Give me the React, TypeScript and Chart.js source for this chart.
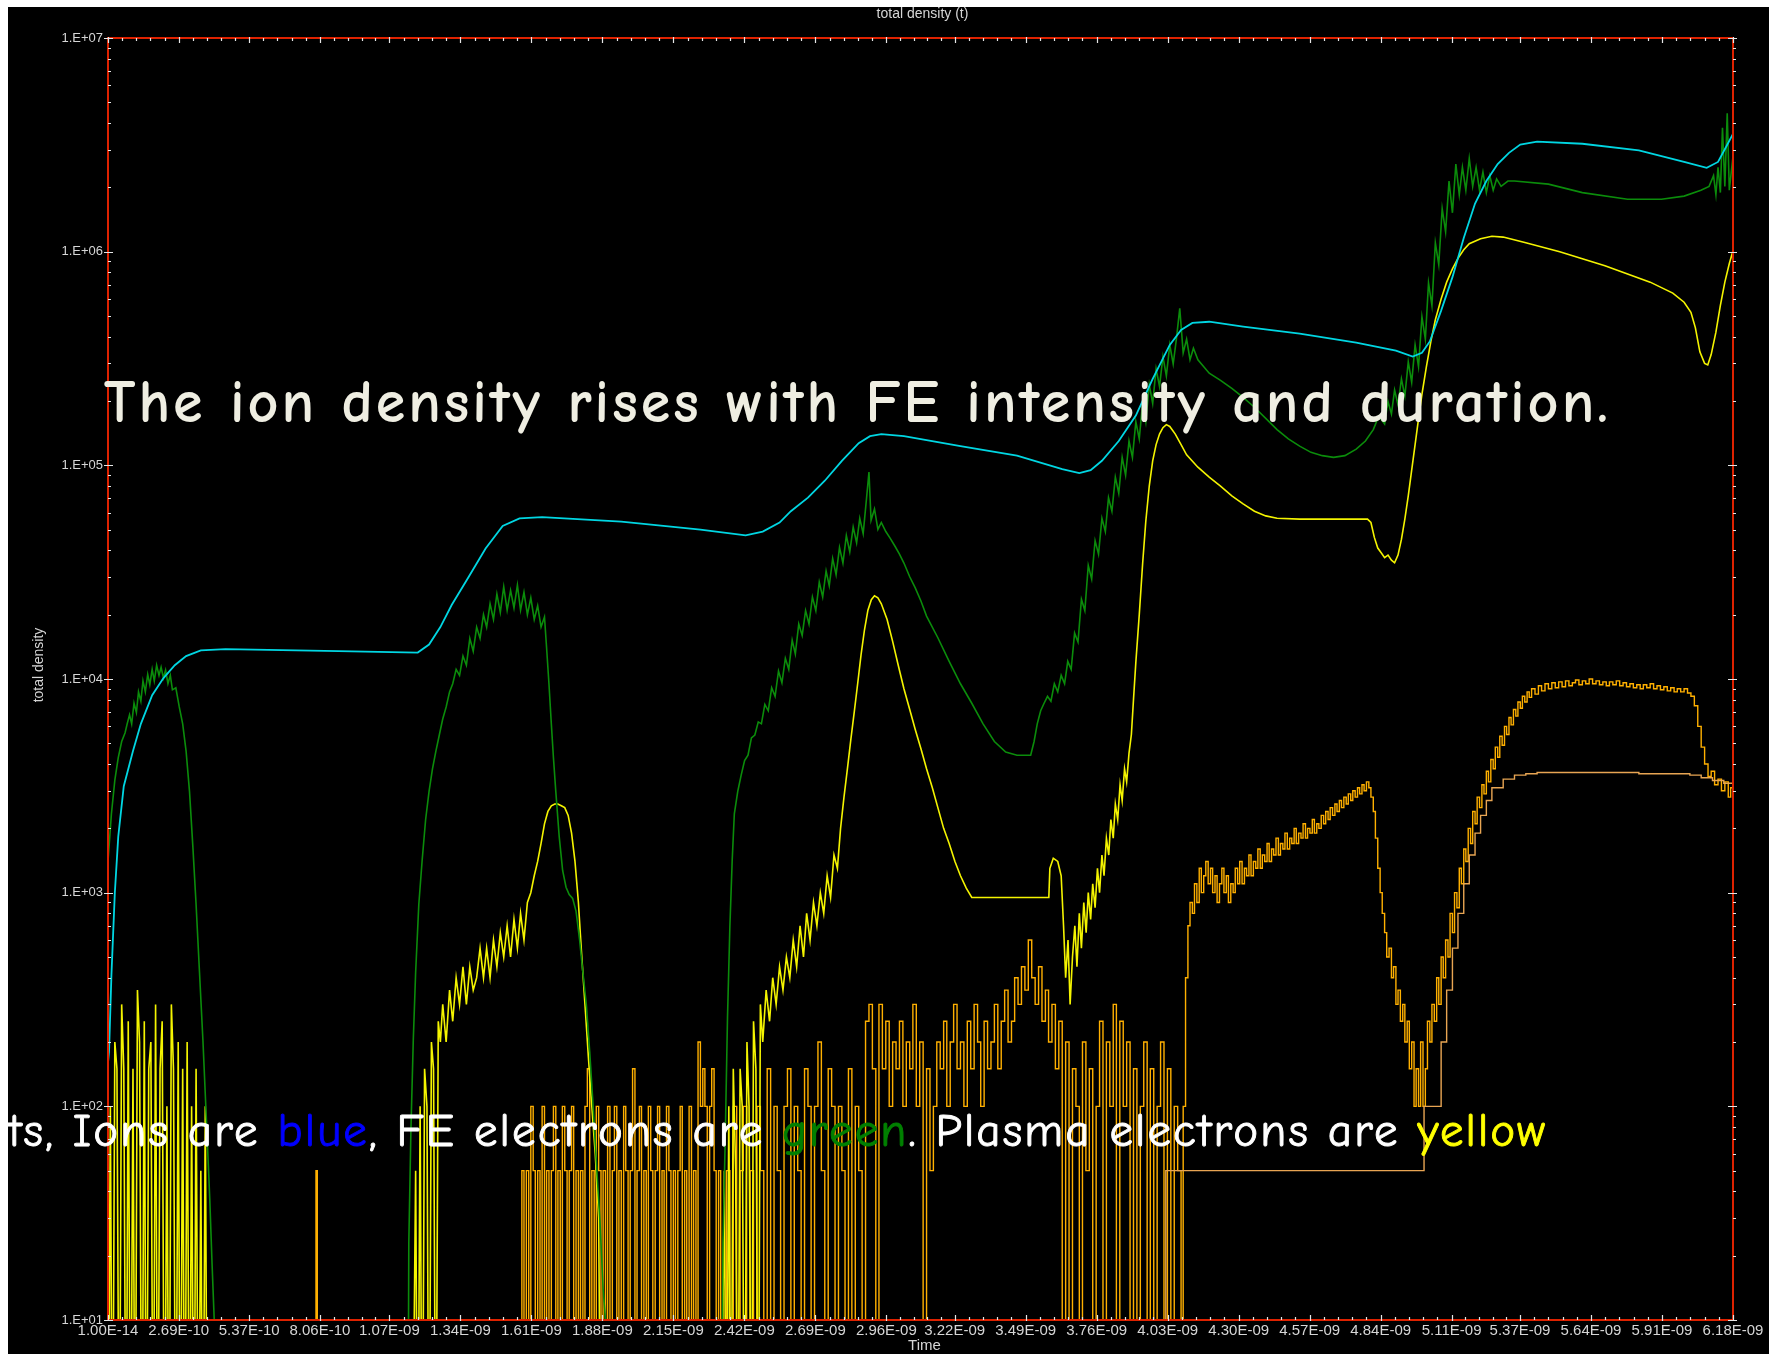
import React, { useEffect, useRef } from "react";
import { Chart, registerables } from "chart.js";

Chart.register(...registerables);

// ---------- text ----------
const chartTitle = "total density (t)";
const xAxisTitle = "Time";
const yAxisTitle = "total density";
const headline = "The ion density rises with FE intensity and duration.";

// ---------- tick labels ----------
const xTickLabels = [
  "1.00E-14", "2.69E-10", "5.37E-10", "8.06E-10", "1.07E-09", "1.34E-09",
  "1.61E-09", "1.88E-09", "2.15E-09", "2.42E-09", "2.69E-09", "2.96E-09",
  "3.22E-09", "3.49E-09", "3.76E-09", "4.03E-09", "4.30E-09", "4.57E-09",
  "4.84E-09", "5.11E-09", "5.37E-09", "5.64E-09", "5.91E-09", "6.18E-09",
];
const yTickLabels = ["1.E+01", "1.E+02", "1.E+03", "1.E+04", "1.E+05", "1.E+06", "1.E+07"];

// ---------- series: [time in ps, density] ----------
const ionDensity: [number, number][] = [
  [0, 160], [4, 180], [13, 410], [26, 1000], [39, 1830], [60, 3150], [95, 4600], [125, 6170],
  [168, 8400], [211, 10100], [254, 11600], [297, 12800], [353, 13600], [447, 13800], [877, 13500],
  [1178, 13300], [1221, 14500], [1264, 17500], [1307, 22200], [1372, 30100], [1436, 40800],
  [1501, 52000], [1565, 56500], [1651, 57200], [1952, 54500], [2253, 50000], [2425, 47000],
  [2490, 49000], [2554, 54000], [2597, 61000], [2662, 70600], [2726, 84700], [2791, 105000],
  [2855, 127000], [2898, 137000], [2941, 140000], [3027, 137000], [3242, 123000], [3457, 111000],
  [3629, 96000], [3694, 92000], [3737, 95000], [3780, 105000], [3844, 130000], [3909, 171000],
  [3973, 254000], [4038, 366000], [4081, 430000], [4124, 464000], [4188, 470000], [4317, 446000],
  [4532, 413000], [4747, 375000], [4898, 344000], [4962, 323000], [4997, 336000], [5027, 380000],
  [5070, 530000], [5113, 760000], [5156, 1160000], [5199, 1680000], [5242, 2140000], [5285, 2570000],
  [5328, 2900000], [5371, 3170000], [5435, 3270000], [5607, 3200000], [5822, 2980000], [5994, 2630000],
  [6080, 2470000], [6123, 2630000], [6153, 3080000], [6180, 3560000],
];

const feElectronDensity: [number, number][] = [
  [0, 1400], [13, 2340], [26, 3360], [39, 4290], [52, 5100], [65, 5600], [73, 6170], [82, 6800],
  [90, 6170], [99, 7700], [108, 6970], [116, 8700], [125, 7870], [133, 9800], [142, 8700], [151, 10500],
  [159, 9400], [168, 11100], [176, 9800], [185, 11600], [194, 10400], [202, 11350], [211, 10100],
  [219, 11000], [228, 9500], [237, 10400], [245, 8900], [258, 9100], [271, 7400], [284, 6170],
  [297, 4600], [310, 2980], [323, 1620], [335, 880], [348, 424], [361, 204], [374, 88], [387, 37],
  [396, 18], [404, 10], [409, 1],
  [1140, 1], [1144, 23], [1152, 77], [1161, 204], [1170, 424], [1182, 880], [1195, 1430], [1208, 2200],
  [1221, 2980], [1234, 3800], [1247, 4600], [1260, 5470], [1273, 6500], [1286, 7400], [1299, 8700],
  [1311, 9500], [1324, 11100], [1337, 10400], [1350, 12800], [1363, 11600], [1376, 15500], [1389, 13500],
  [1402, 17500], [1415, 15500], [1428, 20000], [1440, 17500], [1453, 22500], [1466, 19000], [1479, 25000],
  [1492, 20500], [1505, 27000], [1518, 21000], [1531, 26000], [1544, 21500], [1557, 27500], [1569, 21000],
  [1582, 25500], [1595, 20000], [1608, 24000], [1621, 19000], [1634, 22000], [1647, 17500], [1660, 19500],
  [1668, 14000], [1677, 9500], [1686, 6170], [1694, 4290], [1703, 2980], [1716, 1830], [1729, 1270],
  [1742, 1060], [1754, 980], [1767, 940], [1780, 820], [1793, 610], [1806, 424], [1819, 300], [1832, 180],
  [1845, 100], [1858, 53], [1871, 29], [1883, 14], [1892, 10], [1896, 1],
  [2330, 1], [2339, 23], [2348, 77], [2356, 260], [2365, 690], [2374, 1430], [2382, 2340], [2395, 2980],
  [2408, 3550], [2421, 4150], [2434, 4400], [2447, 5300], [2460, 5470], [2473, 6300], [2485, 6170],
  [2498, 7600], [2511, 7100], [2524, 9100], [2537, 8300], [2550, 10900], [2563, 9600], [2576, 12500],
  [2589, 11100], [2602, 15200], [2614, 13100], [2627, 18100], [2640, 16000], [2653, 20900], [2666, 18100],
  [2679, 24200], [2692, 20900], [2705, 28400], [2718, 24200], [2731, 32000], [2743, 27300], [2756, 36600],
  [2769, 30800], [2782, 41300], [2795, 34900], [2808, 46900], [2821, 39400], [2834, 51400], [2847, 43400],
  [2859, 56500], [2872, 47900], [2885, 70600], [2894, 93000], [2902, 55300], [2915, 62500], [2928, 50100],
  [2941, 54000], [2958, 49000], [2975, 45500], [2993, 41800], [3010, 38400], [3027, 34900], [3049, 30100],
  [3070, 26700], [3092, 23100], [3113, 19700], [3156, 15600], [3199, 12100], [3242, 9500], [3285, 7700],
  [3328, 6170], [3371, 5100], [3414, 4550], [3457, 4400], [3509, 4400],
  [3522, 5100], [3534, 6170], [3547, 7100], [3560, 7700], [3573, 8300], [3586, 7870], [3599, 9500],
  [3612, 8700], [3625, 10400], [3638, 9500], [3650, 12100], [3663, 11100], [3676, 16400], [3689, 14900],
  [3702, 23600], [3715, 20900], [3728, 34000], [3741, 29400], [3754, 44400], [3767, 38400], [3780, 56500],
  [3793, 49000], [3805, 70600], [3818, 61000], [3831, 88000], [3844, 74000], [3857, 109000], [3870, 90000],
  [3883, 130000], [3896, 109000], [3909, 160000], [3922, 133000], [3935, 199000], [3947, 160000],
  [3960, 239000], [3973, 195000], [3986, 283000], [3999, 234000], [4012, 323000], [4025, 262000],
  [4038, 366000], [4051, 298000], [4063, 389000], [4076, 543000], [4089, 336000], [4102, 389000],
  [4115, 312000], [4128, 353000], [4145, 312000], [4188, 270000], [4231, 250000], [4274, 229000],
  [4317, 208000], [4360, 187000], [4403, 166000], [4446, 147000], [4489, 133000], [4532, 123000],
  [4575, 115000], [4618, 111000], [4661, 109000], [4704, 111000], [4747, 119000], [4782, 130000],
  [4812, 147000], [4833, 170000], [4855, 156000], [4868, 199000], [4881, 174000], [4893, 225000],
  [4906, 192000], [4919, 254000], [4932, 211000], [4945, 305000], [4958, 245000], [4971, 366000],
  [4984, 290000], [4997, 496000], [5010, 389000], [5022, 714000], [5035, 560000], [5048, 1100000],
  [5061, 870000], [5074, 1590000], [5087, 1240000], [5100, 2140000], [5113, 1520000], [5126, 2570000],
  [5139, 1850000], [5151, 2480000], [5164, 1940000], [5177, 2730000], [5190, 2020000], [5203, 2480000],
  [5216, 1940000], [5229, 2360000], [5242, 1890000], [5255, 2270000], [5268, 1940000], [5281, 2190000],
  [5298, 2020000], [5324, 2140000], [5349, 2140000], [5478, 2070000], [5607, 1890000], [5779, 1760000],
  [5908, 1760000], [5994, 1820000], [6058, 1940000], [6089, 2020000], [6106, 2270000], [6115, 1850000],
  [6123, 2480000], [6132, 1890000], [6140, 3800000], [6149, 2020000], [6158, 4440000], [6166, 1940000],
  [6179, 2730000],
];

const plasmaElectronDensity: [number, number][] = [
  [0, 1], [9, 100], [17, 1], [26, 200], [34, 150], [43, 1], [52, 300], [60, 150], [69, 1], [77, 250],
  [86, 1], [95, 150], [103, 1], [112, 350], [120, 200], [129, 1], [138, 250], [146, 1], [155, 150],
  [163, 200], [172, 1], [181, 300], [189, 1], [198, 150], [206, 250], [215, 1], [224, 100], [232, 1],
  [241, 300], [249, 150], [258, 1], [267, 200], [275, 1], [284, 150], [292, 1], [301, 200], [310, 1],
  [318, 100], [327, 1], [335, 150], [344, 1], [353, 50], [361, 1], [370, 100], [378, 1],
  [1157, 1], [1170, 50], [1178, 1], [1187, 100], [1195, 1], [1204, 150], [1213, 100], [1221, 1],
  [1230, 200], [1238, 150], [1247, 1], [1256, 250], [1264, 200], [1273, 300], [1286, 200], [1299, 350],
  [1311, 250], [1324, 400], [1337, 300], [1350, 450], [1363, 300], [1376, 450], [1389, 350], [1402, 400],
  [1415, 550], [1428, 400], [1440, 550], [1453, 400], [1466, 600], [1479, 450], [1492, 650], [1505, 500],
  [1518, 700], [1531, 500], [1544, 750], [1557, 550], [1569, 800], [1582, 600], [1595, 900], [1608, 1000],
  [1621, 1200], [1634, 1400], [1647, 1700], [1660, 2100], [1673, 2400], [1686, 2550], [1699, 2600],
  [1711, 2600], [1724, 2550], [1737, 2500], [1750, 2300], [1763, 1900], [1776, 1400], [1789, 900],
  [1801, 520], [1814, 300], [1827, 170], [1840, 100], [1853, 60], [1866, 30], [1875, 1],
  [2331, 1], [2344, 50], [2352, 1], [2361, 100], [2369, 1], [2378, 150], [2387, 50], [2395, 1],
  [2404, 150], [2412, 100], [2421, 1], [2430, 200], [2438, 100], [2447, 1], [2455, 250], [2464, 150],
  [2473, 1], [2481, 300], [2490, 200], [2503, 350], [2516, 250], [2528, 400], [2541, 300], [2554, 450],
  [2567, 350], [2580, 500], [2593, 400], [2606, 600], [2619, 450], [2632, 700], [2645, 500], [2657, 800],
  [2670, 600], [2683, 900], [2696, 700], [2709, 1000], [2722, 800], [2735, 1200], [2748, 950],
  [2761, 1500], [2774, 1300], [2786, 2000], [2799, 2800], [2812, 3800], [2825, 5200], [2838, 7000],
  [2851, 9500], [2864, 13000], [2877, 17000], [2890, 21000], [2903, 23500], [2915, 24500], [2928, 24000],
  [2941, 22500], [2963, 19000], [2984, 15000], [3006, 11500], [3027, 9000], [3049, 7200], [3070, 5800],
  [3092, 4700], [3113, 3800], [3135, 3100], [3156, 2500], [3178, 2000], [3199, 1700], [3221, 1400],
  [3242, 1200], [3264, 1050], [3285, 950], [3578, 950], [3582, 1300], [3595, 1450], [3612, 1400],
  [3625, 1200], [3634, 700], [3642, 400], [3651, 600], [3659, 300], [3668, 500], [3677, 700], [3685, 450],
  [3694, 800], [3702, 550], [3711, 900], [3720, 650], [3728, 1000], [3737, 750], [3745, 1100], [3754, 850],
  [3763, 1300], [3771, 1000], [3780, 1500], [3788, 1200], [3797, 1800], [3806, 1500], [3814, 2200],
  [3823, 1800], [3831, 2600], [3840, 2200], [3849, 3200], [3857, 2700], [3866, 3800], [3874, 3300],
  [3883, 4500], [3892, 5500], [3900, 8000], [3909, 12000], [3922, 20000], [3935, 35000], [3947, 55000],
  [3960, 80000], [3973, 105000], [3986, 125000], [3999, 140000], [4012, 150000], [4025, 155000],
  [4038, 152000], [4059, 140000], [4081, 125000], [4102, 112000], [4145, 98000], [4188, 88000],
  [4231, 80000], [4274, 72000], [4317, 66000], [4360, 61000], [4403, 58000], [4446, 56500], [4532, 56000],
  [4704, 56000], [4790, 56000], [4803, 54000], [4816, 46000], [4829, 41000], [4842, 39000], [4855, 37000],
  [4868, 38000], [4881, 36000], [4893, 35000], [4906, 38000], [4919, 45000], [4932, 56000], [4945, 72000],
  [4958, 95000], [4971, 125000], [4984, 165000], [4997, 215000], [5014, 290000], [5031, 380000],
  [5048, 480000], [5070, 600000], [5091, 720000], [5113, 830000], [5134, 930000], [5156, 1020000],
  [5177, 1090000], [5220, 1150000], [5263, 1180000], [5306, 1170000], [5392, 1100000], [5521, 1000000],
  [5693, 860000], [5865, 720000], [5951, 640000], [5994, 580000], [6020, 520000], [6037, 440000],
  [6054, 340000], [6072, 300000], [6084, 295000], [6097, 330000], [6115, 420000], [6132, 560000],
  [6149, 720000], [6166, 880000], [6179, 1000000],
];

const secondaryDensity: [number, number][] = [
  [787, 1], [791, 50], [796, 1],
  [1565, 1], [1574, 50], [1582, 1], [1591, 50], [1600, 1], [1608, 100], [1617, 50], [1625, 1], [1634, 50],
  [1643, 1], [1651, 100], [1660, 1], [1668, 50], [1677, 1], [1686, 50], [1694, 100], [1703, 1], [1711, 50],
  [1720, 1], [1728, 100], [1737, 50], [1746, 1], [1754, 50], [1763, 100], [1771, 1], [1780, 50], [1789, 1],
  [1797, 50], [1806, 1], [1814, 100], [1823, 150], [1832, 1], [1840, 50], [1849, 1], [1857, 100], [1866, 50],
  [1875, 1], [1883, 50], [1892, 1], [1900, 100], [1909, 1], [1918, 50], [1926, 100], [1935, 1], [1943, 50],
  [1952, 1], [1961, 100], [1969, 50], [1978, 1], [1986, 50], [1995, 150], [2004, 1], [2012, 50], [2021, 100],
  [2029, 1], [2038, 50], [2047, 1], [2055, 100], [2064, 50], [2072, 1], [2081, 50], [2090, 100], [2098, 1],
  [2107, 50], [2115, 1], [2124, 100], [2133, 50], [2141, 1], [2150, 50], [2158, 1], [2167, 50], [2176, 100],
  [2184, 1], [2193, 50], [2201, 1], [2210, 100], [2219, 1], [2227, 50], [2236, 1], [2244, 200], [2253, 100],
  [2262, 150], [2270, 100], [2279, 1], [2288, 100], [2296, 150], [2305, 50], [2313, 1], [2322, 50], [2330, 1],
  [2339, 1], [2352, 50], [2365, 1], [2378, 100], [2391, 1], [2404, 50], [2416, 100], [2429, 1], [2442, 50],
  [2455, 1], [2468, 100], [2481, 50], [2494, 1], [2507, 150], [2520, 1], [2533, 100], [2545, 50], [2558, 1],
  [2571, 100], [2584, 150], [2597, 1], [2610, 100], [2623, 50], [2636, 1], [2649, 150], [2662, 100],
  [2674, 1], [2687, 100], [2700, 200], [2713, 50], [2726, 1], [2739, 150], [2752, 100], [2765, 1],
  [2778, 100], [2791, 50], [2803, 1], [2816, 150], [2829, 1], [2842, 100], [2855, 50], [2868, 1],
  [2881, 250], [2894, 300], [2907, 150], [2920, 1], [2932, 300], [2945, 150], [2958, 250], [2971, 100],
  [2984, 200], [2997, 150], [3010, 250], [3023, 100], [3036, 200], [3049, 150], [3061, 300], [3074, 100],
  [3087, 200], [3100, 1], [3113, 150], [3126, 50], [3139, 100], [3152, 200], [3165, 150], [3178, 250],
  [3190, 100], [3203, 200], [3216, 300], [3229, 150], [3242, 200], [3255, 100], [3268, 250], [3281, 150],
  [3294, 300], [3307, 200], [3319, 100], [3332, 250], [3345, 150], [3358, 200], [3371, 300], [3384, 150],
  [3397, 250], [3410, 350], [3423, 200], [3436, 250], [3448, 400], [3461, 300], [3474, 450], [3487, 350],
  [3500, 600], [3513, 400], [3526, 300], [3539, 450], [3552, 250], [3565, 350], [3577, 200], [3590, 300],
  [3603, 150], [3616, 250], [3629, 1], [3642, 200], [3655, 1], [3668, 150], [3681, 100], [3694, 1],
  [3706, 200], [3719, 50], [3732, 150], [3745, 1], [3758, 100], [3771, 250], [3784, 1], [3797, 200],
  [3810, 100], [3823, 300], [3835, 1], [3848, 250], [3861, 100], [3874, 200], [3887, 1], [3900, 150],
  [3913, 1], [3926, 100], [3939, 200], [3952, 1], [3964, 150], [3977, 1], [3990, 100], [4003, 200],
  [4016, 1], [4029, 150], [4042, 1], [4055, 100], [4068, 50], [4081, 1],
  [4089, 100], [4098, 400], [4107, 700], [4115, 900], [4124, 800], [4132, 1100], [4141, 900], [4150, 1300],
  [4158, 1000], [4167, 1200], [4175, 1400], [4184, 1100], [4193, 1300], [4201, 1000], [4210, 1200],
  [4218, 900], [4227, 1100], [4236, 1300], [4244, 1000], [4253, 1200], [4261, 900], [4270, 1100],
  [4279, 1000], [4287, 1300], [4296, 1100], [4304, 1400], [4313, 1100], [4322, 1300], [4330, 1200],
  [4339, 1500], [4347, 1200], [4356, 1400], [4365, 1300], [4373, 1600], [4382, 1300], [4390, 1500],
  [4399, 1400], [4408, 1700], [4416, 1400], [4425, 1600], [4433, 1500], [4442, 1800], [4451, 1500],
  [4459, 1700], [4468, 1600], [4476, 1900], [4485, 1600], [4494, 1800], [4502, 1700], [4511, 2000],
  [4519, 1700], [4528, 1900], [4537, 1800], [4545, 2100], [4554, 1800], [4562, 2000], [4571, 1900],
  [4580, 2200], [4588, 1900], [4597, 2100], [4605, 2000], [4614, 2300], [4623, 2100], [4631, 2400],
  [4640, 2200], [4648, 2500], [4657, 2300], [4666, 2600], [4674, 2400], [4683, 2700], [4691, 2500],
  [4700, 2800], [4709, 2600], [4717, 2900], [4726, 2700], [4734, 3000], [4743, 2800], [4752, 3100],
  [4760, 2900], [4769, 3200], [4777, 3000], [4786, 3300], [4795, 3100], [4803, 2800], [4812, 2400],
  [4820, 1800], [4829, 1300], [4838, 1000], [4846, 800], [4855, 650], [4863, 500], [4872, 550], [4881, 400],
  [4889, 450], [4898, 300], [4906, 350], [4915, 250], [4924, 300], [4932, 200], [4941, 250], [4949, 150],
  [4958, 200], [4967, 100], [4975, 150], [4984, 100], [4992, 200], [5001, 100], [5010, 150], [5018, 250],
  [5027, 200], [5035, 300], [5044, 250], [5053, 400], [5061, 300], [5070, 500], [5078, 400], [5087, 600],
  [5096, 500], [5104, 800], [5113, 650], [5121, 1000], [5130, 850], [5139, 1300], [5147, 1100],
  [5156, 1600], [5164, 1400], [5173, 2000], [5182, 1700], [5190, 2400], [5199, 2100], [5207, 2800],
  [5216, 2500], [5225, 3200], [5233, 2900], [5242, 3700], [5250, 3300], [5259, 4200], [5268, 3800],
  [5276, 4800], [5285, 4300], [5293, 5400], [5302, 4900], [5311, 6000], [5319, 5500], [5328, 6600],
  [5336, 6100], [5345, 7200], [5354, 6700], [5362, 7800], [5371, 7300], [5379, 8300], [5388, 7800],
  [5397, 8700], [5405, 8200], [5414, 9000], [5427, 8500], [5440, 9300], [5452, 8800], [5465, 9500],
  [5478, 9000], [5491, 9600], [5504, 9100], [5517, 9700], [5530, 9200], [5543, 9800], [5556, 9300],
  [5569, 9600], [5581, 9900], [5594, 9400], [5607, 9800], [5620, 9500], [5633, 10000], [5646, 9500],
  [5659, 9800], [5672, 9400], [5685, 9700], [5698, 9300], [5710, 9700], [5723, 9400], [5736, 9800],
  [5749, 9300], [5762, 9600], [5775, 9200], [5788, 9500], [5801, 9100], [5814, 9400], [5827, 9000],
  [5839, 9400], [5852, 9100], [5865, 9500], [5878, 9000], [5891, 9300], [5904, 8900], [5917, 9200],
  [5930, 8800], [5943, 9100], [5956, 8700], [5968, 9000], [5981, 8700], [5994, 9000], [6007, 8600],
  [6020, 8300], [6033, 7500], [6046, 6000], [6059, 4800], [6072, 4000], [6085, 3500], [6097, 3700],
  [6110, 3200], [6123, 3400], [6136, 3000], [6149, 3300], [6162, 2800], [6171, 3100], [6179, 2900],
];

const secondaryMean: [number, number][] = [
  [4018, 1], [4023, 50], [5005, 100], [5070, 200], [5091, 350], [5113, 550], [5134, 800], [5156, 1100],
  [5177, 1500], [5199, 1900], [5220, 2300], [5242, 2700], [5263, 3100], [5306, 3400], [5349, 3550],
  [5392, 3600], [5435, 3650], [5607, 3650], [5822, 3600], [6016, 3550], [6059, 3450], [6102, 3350],
  [6145, 3250], [6179, 3200],
];

// ---------- helpers ----------
const toXY = (arr: [number, number][]) => arr.map(([x, y]) => ({ x, y }));
const xTickValues = xTickLabels.map((s) => parseFloat(s) * 1e12);
const yTickValues = yTickLabels.map((s) => parseFloat(s));

const AXIS_FONT = '"Liberation Sans", Arial, sans-serif';

const framePlugin = {
  id: "frameAndTitles",
  afterDraw(chart: any) {
    const { ctx, chartArea: a, scales } = chart;
    const xs = scales.x;
    const ys = scales.y;
    ctx.save();
    // red frame
    ctx.strokeStyle = "rgb(222,34,0)";
    ctx.lineWidth = 2;
    ctx.strokeRect(a.left, a.top, a.right - a.left, a.bottom - a.top);

    // white tick marks
    ctx.strokeStyle = "#e6e6e6";
    ctx.lineWidth = 1.2;
    ctx.beginPath();
    for (let i = 0; i < xTickValues.length; i++) {
      const px = Math.round(xs.getPixelForValue(xTickValues[i])) + 0.5;
      ctx.moveTo(px, a.bottom + 1); ctx.lineTo(px, a.bottom - 5);
      ctx.moveTo(px, a.top - 1); ctx.lineTo(px, a.top + 5);
      if (i < xTickValues.length - 1) {
        const v0 = xTickValues[i];
        const v1 = xTickValues[i + 1];
        for (let j = 1; j < 5; j++) {
          const mx = Math.round(xs.getPixelForValue(v0 + ((v1 - v0) * j) / 5)) + 0.5;
          ctx.moveTo(mx, a.bottom); ctx.lineTo(mx, a.bottom - 3);
          ctx.moveTo(mx, a.top); ctx.lineTo(mx, a.top + 3);
        }
      }
    }
    for (let i = 0; i < yTickValues.length; i++) {
      const py = Math.round(ys.getPixelForValue(yTickValues[i])) + 0.5;
      ctx.moveTo(a.left - 4, py); ctx.lineTo(a.left + 5, py);
      ctx.moveTo(a.right - 5, py); ctx.lineTo(a.right + 4, py);
      if (i < yTickValues.length - 1) {
        for (let d = 2; d < 10; d++) {
          const my = Math.round(ys.getPixelForValue(yTickValues[i] * d)) + 0.5;
          ctx.moveTo(a.left, my); ctx.lineTo(a.left + 3, my);
          ctx.moveTo(a.right, my); ctx.lineTo(a.right + 3, my);
        }
      }
    }
    ctx.stroke();

    // titles
    ctx.fillStyle = "#d6d6d6";
    ctx.textAlign = "center";
    ctx.textBaseline = "middle";
    const cx = (a.left + a.right) / 2;
    ctx.font = `14px ${AXIS_FONT}`;
    ctx.fillText(chartTitle, cx + 2, a.top - 24);
    ctx.font = `15px ${AXIS_FONT}`;
    ctx.fillText(xAxisTitle, cx + 4, chart.height - 8);
    ctx.font = `14px ${AXIS_FONT}`;
    ctx.translate(31, (a.top + a.bottom) / 2 - 14);
    ctx.rotate(-Math.PI / 2);
    ctx.fillText(yAxisTitle, 0, 0);
    ctx.restore();
  },
};

export default function App() {
  const canvasRef = useRef<HTMLCanvasElement | null>(null);

  useEffect(() => {
    const canvas = canvasRef.current;
    if (!canvas) return;
    const line = (data: [number, number][], color: string, width: number, stepped: boolean) => ({
      data: toXY(data),
      borderColor: color,
      backgroundColor: color,
      borderWidth: width,
      pointRadius: 0,
      tension: 0,
      fill: false,
      stepped,
    });
    const chart = new Chart(canvas, {
      type: "line",
      data: {
        datasets: [
          line(ionDensity, "#00d6e2", 1.8, false),
          line(feElectronDensity, "#0b8c0b", 1.6, false),
          line(plasmaElectronDensity, "#f4f400", 1.6, false),
          line(secondaryMean, "#e8a553", 1.4, true),
          line(secondaryDensity, "#ffb000", 1.4, true),
        ],
      },
      options: {
        animation: false,
        responsive: false,
        events: [],
        parsing: false,
        layout: { padding: { left: 0, top: 31, right: 36, bottom: 0 } },
        plugins: {
          legend: { display: false },
          tooltip: { enabled: false },
          title: { display: false },
        },
        scales: {
          x: {
            type: "linear",
            min: xTickValues[0],
            max: xTickValues[xTickValues.length - 1],
            grid: { display: false, drawTicks: false },
            border: { display: false },
            afterBuildTicks: (scale: any) => {
              scale.ticks = xTickValues.map((value) => ({ value }));
            },
            afterFit: (scale: any) => {
              scale.height = 34;
            },
            ticks: {
              autoSkip: false,
              maxRotation: 0,
              minRotation: 0,
              padding: 2,
              color: "#d6d6d6",
              font: { family: AXIS_FONT, size: 15 },
              callback: (_v: any, i: number) => xTickLabels[i],
            },
          },
          y: {
            type: "logarithmic",
            min: yTickValues[0],
            max: yTickValues[yTickValues.length - 1],
            grid: { display: false, drawTicks: false },
            border: { display: false },
            afterBuildTicks: (scale: any) => {
              scale.ticks = yTickValues.map((value) => ({ value }));
            },
            afterFit: (scale: any) => {
              scale.width = 100;
            },
            ticks: {
              autoSkip: false,
              padding: 5,
              color: "#d6d6d6",
              font: { family: AXIS_FONT, size: 13 },
              callback: (_v: any, i: number) => yTickLabels[i],
            },
          },
        },
      } as any,
      plugins: [framePlugin],
    });
    return () => chart.destroy();
  }, []);

  const overlayFont = '"Comic Sans MS", "Comic Neue", Lato, sans-serif';

  return (
    <div
      style={{
        position: "absolute",
        left: 8,
        top: 7,
        width: 1761,
        height: 1347,
        background: "#000",
        overflow: "hidden",
      }}
    >
      <canvas ref={canvasRef} width={1761} height={1347} style={{ position: "absolute", left: 0, top: 0 }} />
      <div
        style={{
          position: "absolute",
          left: 96,
          top: 366,
          whiteSpace: "nowrap",
          fontFamily: overlayFont,
          fontWeight: 700,
          fontSize: 60,
          lineHeight: "60px",
          letterSpacing: "3px",
          color: "#efeee2",
          pointerEvents: "none",
        }}
      >
        {headline}
      </div>
      <div
        style={{
          position: "absolute",
          left: 0,
          top: 1101,
          whiteSpace: "nowrap",
          fontFamily: overlayFont,
          fontWeight: 400,
          fontSize: 47,
          lineHeight: "47px",
          letterSpacing: "2.1px",
          color: "#ffffff",
          WebkitTextStroke: "0.9px",
          pointerEvents: "none",
        }}
      >
        ts, Ions are <span style={{ color: "#0000ff" }}>blue</span>, FE electrons are{" "}
        <span style={{ color: "#008000" }}>green</span>. Plasma electrons are{" "}
        <span style={{ color: "#ffff00" }}>yellow</span>
      </div>
    </div>
  );
}
